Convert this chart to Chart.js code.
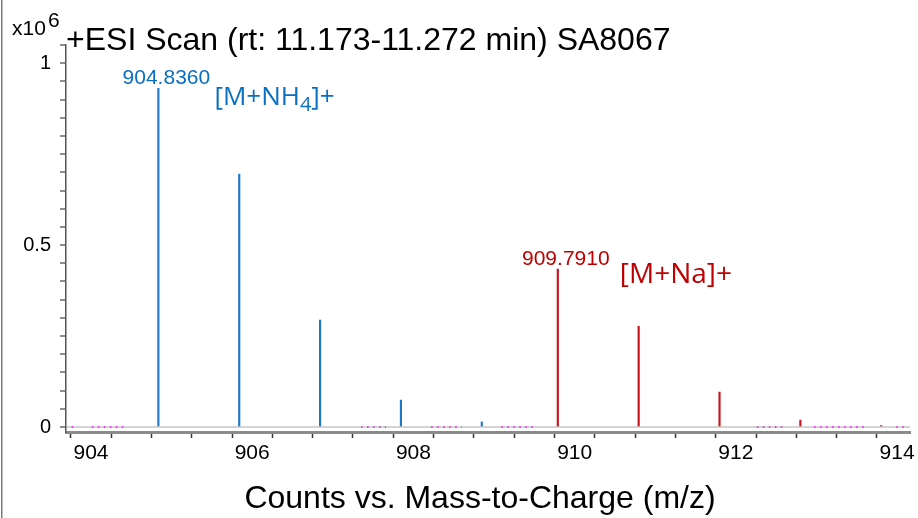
<!DOCTYPE html>
<html>
<head>
<meta charset="utf-8">
<script src="https://cdn.jsdelivr.net/npm/chart.js@4"></script>
<style>
  html, body { margin: 0; padding: 0; background: #fff; }
  #wrap { width: 918px; height: 518px; }
</style>
</head>
<body>
<div id="wrap"><canvas id="msChart" width="918" height="518"></canvas></div>
<script>
// peaks (m/z, counts x10^6)
const nh4Mz = [904.836, 905.839, 906.842, 907.845, 908.848];
const nh4Int = [0.931, 0.695, 0.294, 0.074, 0.014];
const naMz = [909.791, 910.794, 911.797, 912.800, 913.803];
const naInt = [0.434, 0.277, 0.096, 0.019, 0.004];

// little magenta noise runs along the baseline
const noiseStart = [903.76, 904.01, 907.35, 908.22, 909.09, 912.26, 912.97, 913.99];
const noiseEnd = [903.79, 904.45, 907.66, 908.60, 909.53, 912.62, 913.62, 914.09];

const xTickValues = [904, 904.5, 905, 905.5, 906, 906.5, 907, 907.5, 908, 908.5, 909,
  909.5, 910, 910.5, 911, 911.5, 912, 912.5, 913, 913.5, 914];
const xTickLabels = ["904", "906", "908", "910", "912", "914"];
const yTickValues = [0, 0.05, 0.1, 0.15, 0.2, 0.25, 0.3, 0.35, 0.4, 0.45, 0.5,
  0.55, 0.6, 0.65, 0.7, 0.75, 0.8, 0.85, 0.9, 0.95, 1, 1.05];
const yTickLabels = ["0", "0.5", "1"];

const peakLabels = ["904.8360", "909.7910"];
const ionLabels = [["[M+NH", "4", "]+"], ["[M+Na]+", "", ""]];

const BLUE = "#1f78c8";
const BLUE_TXT = "#0a6fc2";
const RED = "#c8141c";
const RED_TXT = "#c00000";
const SANS = "'Liberation Sans', Arial, sans-serif";
const ION = "'Open Sans', 'Noto Sans', sans-serif";

const noiseData = [];
noiseStart.forEach((s, i) => {
  noiseData.push({ x: s, y: 0 }, { x: noiseEnd[i], y: 0 }, { x: noiseEnd[i] + 0.01, y: null });
});

const fmt = (v, list) => {
  const s = String(Math.round(v * 100) / 100);
  return list.includes(s) ? s : "";
};

const extras = {
  id: "extras",
  afterDraw(chart) {
    const { ctx, scales } = chart;
    const xs = scales.x, ys = scales.y;
    ctx.save();
    // left frame edge
    ctx.fillStyle = "#7a7a7a";
    ctx.fillRect(1, 0, 1.5, 518);

    ctx.textBaseline = "alphabetic";
    ctx.fillStyle = "#000";
    ctx.font = "21px " + SANS;
    ctx.fillText("x10", 12, 35);
    ctx.fillText("6", 48, 27);

    ctx.font = "32px " + SANS;
    ctx.fillText("+ESI Scan (rt: 11.173-11.272 min) SA8067", 66, 50);

    ctx.textAlign = "center";
    ctx.fillText("Counts vs. Mass-to-Charge (m/z)", 480, 508);

    // peak annotations
    const anchors = [[nh4Mz[0], nh4Int[0], BLUE_TXT], [naMz[0], naInt[0], RED_TXT]];
    anchors.forEach((a, i) => {
      const px = xs.getPixelForValue(a[0]);
      const py = ys.getPixelForValue(a[1]);
      ctx.fillStyle = a[2];
      ctx.textAlign = "center";
      ctx.font = "21px " + SANS;
      ctx.fillText(peakLabels[i], px + 8, py - 4);

      ctx.textAlign = "left";
      const parts = ionLabels[i];
      let lx = px + (i === 0 ? 56 : 62);
      const ly = py + (i === 0 ? 17 : 14);
      ctx.font = (i === 0 ? "26px " : "28px ") + ION;
      ctx.fillText(parts[0], lx, ly);
      lx += ctx.measureText(parts[0]).width;
      if (parts[1]) {
        ctx.font = "20px " + ION;
        ctx.fillText(parts[1], lx, ly + 6);
        lx += ctx.measureText(parts[1]).width;
        ctx.font = "26px " + ION;
        ctx.fillText(parts[2], lx, ly);
      }
    });
    ctx.restore();
  },
};

new Chart(document.getElementById("msChart"), {
  type: "bar",
  data: {
    datasets: [
      {
        label: "noise",
        type: "line",
        data: noiseData,
        borderColor: "#ff00ff",
        borderWidth: 1.5,
        borderDash: [1.5, 4.5],
        pointRadius: 0,
        spanGaps: false,
        order: 0,
      },
      {
        label: "[M+NH4]+",
        data: nh4Mz.map((m, i) => ({ x: m, y: nh4Int[i] })),
        backgroundColor: BLUE,
        barThickness: 1.5,
        grouped: false,
      },
      {
        label: "[M+Na]+",
        data: naMz.map((m, i) => ({ x: m, y: naInt[i] })),
        backgroundColor: RED,
        barThickness: 1.5,
        grouped: false,
      },
    ],
  },
  options: {
    responsive: false,
    animation: false,
    devicePixelRatio: 1,
    layout: { padding: { top: 45, left: 0, right: 8, bottom: 0 } },
    plugins: { legend: { display: false }, tooltip: { enabled: false } },
    scales: {
      x: {
        type: "linear",
        offset: false,
        min: 903.69,
        max: 914.16,
        afterBuildTicks: (scale) => {
          scale.ticks = xTickValues.map((v) => ({ value: v }));
        },
        afterFit: (scale) => {
          scale.height = 86;
        },
        ticks: {
          autoSkip: false,
          maxRotation: 0,
          padding: 3,
          color: "#000",
          font: { family: SANS, size: 21 },
          callback: (v) => fmt(v, xTickLabels),
        },
        grid: {
          drawOnChartArea: false,
          drawTicks: true,
          tickLength: 6,
          tickColor: "#333",
          tickWidth: 1.5,
        },
        border: { color: "#8c8c8c", width: 3 },
      },
      y: {
        min: -0.0137,
        max: 1.05,
        afterBuildTicks: (scale) => {
          scale.ticks = yTickValues.map((v) => ({ value: v }));
        },
        afterFit: (scale) => {
          scale.width = 66;
        },
        ticks: {
          autoSkip: false,
          padding: 9,
          color: "#000",
          font: { family: SANS, size: 20 },
          callback: (v) => fmt(v, yTickLabels),
        },
        grid: {
          drawOnChartArea: true,
          drawTicks: true,
          tickLength: 6,
          tickWidth: 1.2,
          tickColor: "#444",
          color: (c) => (c.tick && c.tick.value === 0 ? "#d4d4d4" : "rgba(0,0,0,0)"),
          lineWidth: (c) => (c.tick && c.tick.value === 0 ? 2 : 0),
        },
        border: { color: "#555", width: 1.5 },
      },
    },
  },
  plugins: [extras],
});
</script>
</body>
</html>
